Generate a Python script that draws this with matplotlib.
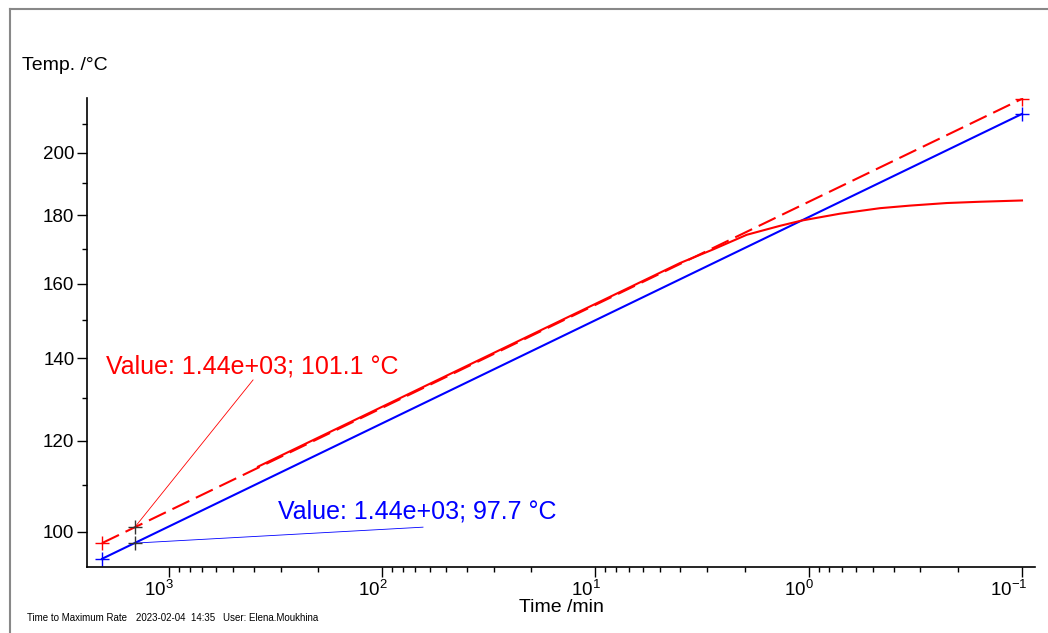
import numpy as np
import matplotlib
matplotlib.use("Agg")
import matplotlib.pyplot as plt
import matplotlib.transforms as mtransforms
from matplotlib.ticker import FixedLocator, NullFormatter
from matplotlib.lines import Line2D

plt.rcParams['font.family'] = ['Liberation Sans', 'DejaVu Sans']
plt.rcParams['mathtext.fontset'] = 'custom'
plt.rcParams['mathtext.rm'] = 'Liberation Sans'

# --- data (time in min, temperature in deg C) ---
tmr_time = [382.4, 4.02, 2.80, 1.954, 1.364, 1.079, 0.714, 0.4633, 0.335, 0.2254, 0.1574, 0.1]
tmr_temp = [114.1, 165.8, 169.8, 174.1, 176.8, 178.4, 180.5, 182.2, 183.0, 183.8, 184.2, 184.6]

zero_time = [2060, 0.1]          # red dashed (extrapolation)
zero_temp = [97.7, 218.8]

blue_time = [2060, 0.1]
blue_temp = [94.5, 213.4]

mark_time = 1440
mark_red = 101.1
mark_blue = 97.7

xticks = [1000, 100, 10, 1, 0.1]
xlabels = [r'$\mathregular{10^{3}}$', r'$\mathregular{10^{2}}$', r'$\mathregular{10^{1}}$',
           r'$\mathregular{10^{0}}$', r'$\mathregular{10^{-1}}$']
yticks = [100, 120, 140, 160, 180, 200]
yminor = [110, 130, 150, 170, 190, 210]


def fwd(T):
    return -1.0 / (np.asarray(T, dtype=float) + 273.15)


def inv(u):
    return -1.0 / np.asarray(u, dtype=float) - 273.15


fig = plt.figure(figsize=(10.48, 6.33), dpi=100)
ax = fig.add_axes([87 / 1048, 1 - 567 / 633, (1035 - 87) / 1048, (567 - 98) / 633])

ax.set_xscale('log')
ax.set_yscale('function', functions=(fwd, inv))
ax.set_xlim(2424, 0.0869)
ax.set_ylim(92.85, 219.1)

# lines
ax.plot(blue_time, blue_temp, color='#0000ff', lw=1.5, marker='+', ms=10, mew=1)
ax.plot(zero_time, zero_temp, color='#ff0000', lw=1.5, ls=(0, (9, 3.5)),
        marker='+', ms=10, mew=1)
ax.plot(tmr_time, tmr_temp, color='#ff0000', lw=1.5)

# value annotations
ax.plot([mark_time, 403.6], [mark_red, 134.55], color='#ff0000', lw=0.6)
ax.plot([mark_time, 64.4], [mark_blue, 101.0], color='#0000ff', lw=0.6)
ax.plot([mark_time, mark_time], [mark_red, mark_blue], ls='none', marker='+',
        color='#333333', ms=10, mew=1)
ax.text(1974, 137.8, 'Value: 1.44e+03; %.1f °C' % mark_red, color='#ff0000',
        fontsize=18, va='center', ha='left')
ax.text(308.3, 104.2, 'Value: 1.44e+03; %.1f °C' % mark_blue, color='#0000ff',
        fontsize=18, va='center', ha='left')

# axes styling
for s in ['top', 'right']:
    ax.spines[s].set_visible(False)
ax.spines['left'].set_linewidth(1.2)
ax.spines['bottom'].set_linewidth(1.2)

ax.xaxis.set_major_locator(FixedLocator(xticks))
ax.set_xticklabels(xlabels)
xminor = [m * 10.0 ** e for e in range(-1, 3) for m in range(2, 10)]
ax.xaxis.set_minor_locator(FixedLocator(xminor))
ax.xaxis.set_minor_formatter(NullFormatter())

ax.yaxis.set_major_locator(FixedLocator(yticks))
ax.set_yticklabels([str(v) for v in yticks])
ax.yaxis.set_minor_locator(FixedLocator(yminor))
ax.yaxis.set_minor_formatter(NullFormatter())

ax.tick_params(which='major', direction='out', length=7, width=1, labelsize=13.5, pad=2)
ax.tick_params(which='minor', direction='out', length=3.5, width=1)

# tick sits over the exponent in the original, so shift labels left
shift = mtransforms.ScaledTranslation(5 / 100, 0, fig.dpi_scale_trans)
for lab in ax.get_xticklabels():
    lab.set_ha('right')
    lab.set_transform(lab.get_transform() + shift)

fig.text(22 / 1048, 1 - 66 / 633, 'Temp. /°C', fontsize=14, va='center', ha='left')
fig.text(561 / 1048, 1 - 607 / 633, 'Time /min', fontsize=14, va='center', ha='center')

# footer
fig.text(27 / 1048, 1 - 618 / 633, 'Time to Maximum Rate', fontsize=7, va='center')
fig.text(136 / 1048, 1 - 618 / 633, '2023-02-04  14:35', fontsize=7, va='center')
fig.text(223 / 1048, 1 - 618 / 633, 'User: Elena.Moukhina', fontsize=7, va='center')

# window frame
fig.add_artist(Line2D([10 / 1048, 10 / 1048], [0, 1 - 9 / 633], color='#888888', lw=1.5))
fig.add_artist(Line2D([10 / 1048, 1], [1 - 9 / 633, 1 - 9 / 633], color='#888888', lw=1.5))

fig.savefig('out.png', dpi=100)
